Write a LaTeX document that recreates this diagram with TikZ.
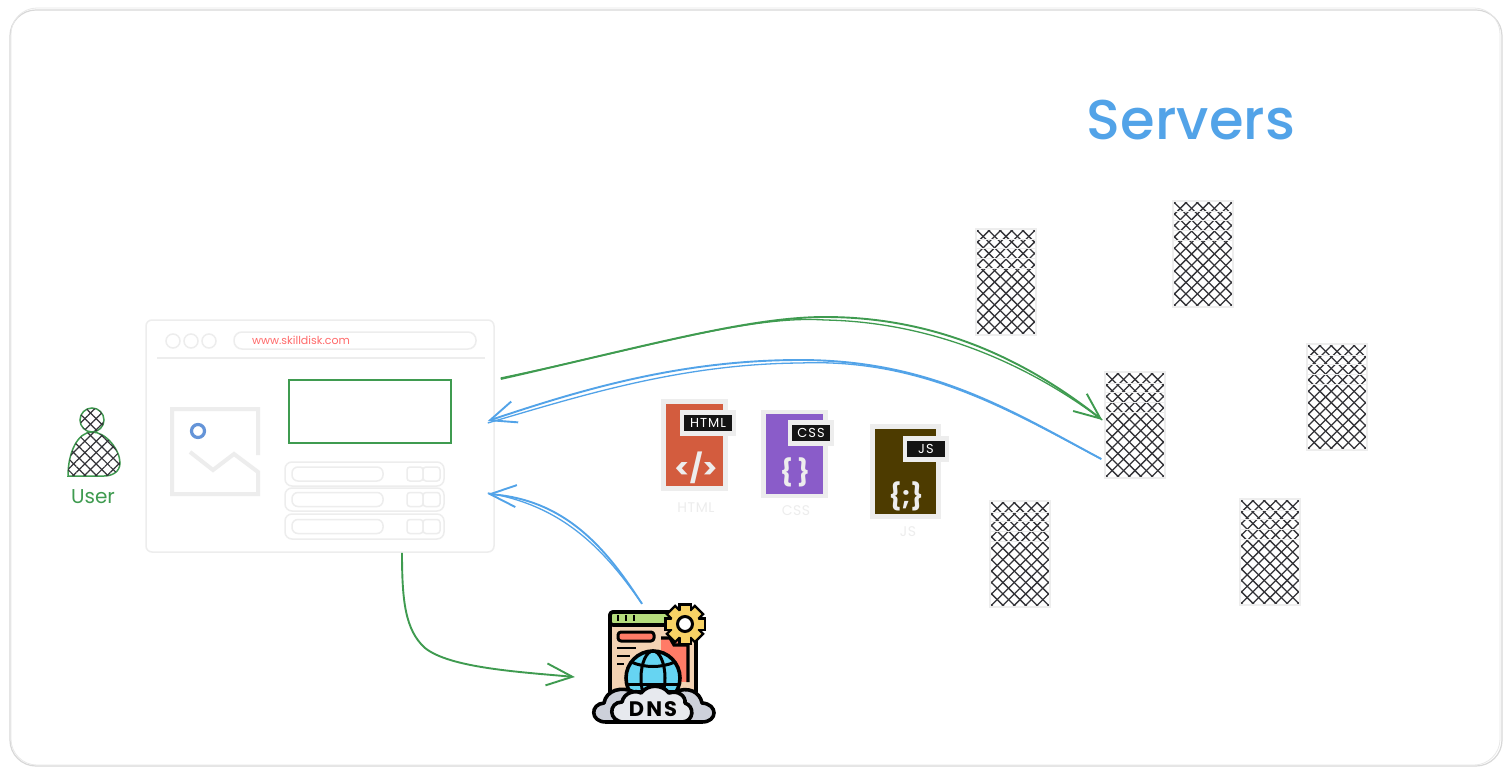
\documentclass[tikz,border=0pt]{standalone}
\usepackage{fontspec}
\setmainfont{Poppins}
\newfontfamily\headfont{Poppins Medium}
\usepackage{tikz}
\usetikzlibrary{positioning,arrows.meta,calc,patterns.meta}

\definecolor{sketchgray}{HTML}{EDEDED}
\definecolor{framegray}{HTML}{D8D8D8}
\definecolor{hatchgray}{HTML}{333338}
\definecolor{usergreen}{HTML}{3F9B50}
\definecolor{linkblue}{HTML}{52A3E8}
\definecolor{urlred}{HTML}{FF6B6B}
\definecolor{dotblue}{HTML}{6494D8}
\definecolor{htmlred}{HTML}{D35C3E}
\definecolor{csspurple}{HTML}{8A5CC9}
\definecolor{jsbrown}{HTML}{4D3B00}
\definecolor{dnspeach}{HTML}{F3D2B3}
\definecolor{dnsgreen}{HTML}{B5DC7C}
\definecolor{dnsred}{HTML}{FF7B67}
\definecolor{dnsyellow}{HTML}{F7D265}
\definecolor{dnsglobe}{HTML}{66D4F2}
\definecolor{cloudback}{HTML}{CDD0DA}
\definecolor{cloudfront}{HTML}{E7E9EE}

\begin{document}
\begin{tikzpicture}[
  x=1pt, y=-1pt,
  font=\fontsize{12}{14}\selectfont,
  hatchline/.style={hatchgray, line width=1.3pt},
  server/.style={draw=sketchgray, line width=1.5pt, fill=white, minimum width=60pt, minimum height=106pt, inner sep=0pt,
    path picture={
      \foreach \k in {-8,...,8}{
        \draw[hatchline] ([xshift=\k*11.4pt]path picture bounding box.center) ++(-70,-70) -- ++(140,140);
        \draw[hatchline] ([xshift=\k*11.4pt]path picture bounding box.center) ++(-70,70) -- ++(140,-140);
      }
      \foreach \s in {11,20,30,40}{
        \draw[sketchgray, line width=1pt] ([yshift=-\s pt]path picture bounding box.north west) -- ([yshift=-\s pt]path picture bounding box.north east);
      }
    }},
  hatched/.style={
    postaction={pattern={Lines[angle=45,distance=8pt,line width=1.2pt]}, pattern color=hatchgray},
    postaction={pattern={Lines[angle=-45,distance=8pt,line width=1.2pt]}, pattern color=hatchgray}},
  sketch/.style={draw=sketchgray, line width=1.5pt, rounded corners=#1},
  sketch/.default=6pt,
  docfile/.style={draw=sketchgray, line width=4.5pt, fill=#1, inner sep=0pt},
  doctag/.style={draw=sketchgray, line width=4.5pt, fill=black!92, text=white, inner sep=0pt, font=\fontsize{13}{15}\selectfont\addfontfeature{LetterSpace=8}},
  docsign/.style={text=sketchgray, font=\fontsize{#1}{#1}\selectfont\bfseries, inner sep=0pt},
  doccaption/.style={text=sketchgray, font=\fontsize{14}{16}\selectfont\addfontfeature{LetterSpace=4}, inner sep=0pt},
  arr/.style={-{Straight Barb[length=26pt,width=22pt]}, line width=1.9pt},
  stroke/.style={line width=1.3pt},
  icon/.style={draw=black, line width=3.6pt, line join=round}
]
\useasboundingbox (0,0) rectangle (1511,775);
\fill[white] (0,0) rectangle (1511,775);
% outer frame
\draw[framegray, line width=1.2pt, rounded corners=26pt] (10,10) rectangle (1502,766);
\draw[framegray!60, line width=.8pt, rounded corners=26pt] (11,8) rectangle (1500,765);

% browser window
\node[sketch, minimum width=348pt, minimum height=232pt, inner sep=0pt] (browser) at (320,436) {};
\foreach \x in {173,191,209}{\draw[sketchgray, line width=1.5pt] (\x,341) circle (7);}
\draw[sketch=8pt] (234,332) rectangle (476,349);
\node[text=urlred, font=\fontsize{11}{13}\selectfont, inner sep=0pt] (url) at (301,340) {www.skilldisk.com};
\draw[sketchgray, line width=1.5pt] (157,358) -- (485,358);
\node[draw=usergreen, line width=1.6pt, minimum width=162pt, minimum height=63pt, inner sep=0pt] (hero) at (370,411.5) {};
% picture placeholder
\draw[sketchgray, line width=4pt] (258,455) -- (258,409) -- (172,409) -- (172,494) -- (258,494) -- (258,472) -- (234,454) -- (213,470) -- (190,452);
\draw[dotblue, line width=3.2pt] (198,431) circle (6.5);
% list rows
\foreach \y/\h in {474/24,499.5/23,526.5/25}{
  \draw[sketch=7pt] (285,\y-\h/2) rectangle (444,\y+\h/2);
  \draw[sketch=6pt] (292,\y-7) rectangle (383,\y+7);
  \draw[sketch=3pt] (407,\y-7) rectangle (423,\y+7);
  \draw[sketch=3pt] (423,\y-7) rectangle (440,\y+7);
}

% user
\draw[usergreen, line width=1.5pt, hatched] (92,420) circle (12);
\draw[usergreen, line width=1.5pt, hatched] (68,476) .. controls (68,452) and (78,432) .. (92,432) .. controls (106,432) and (120,450) .. (120,463) .. controls (120,472) and (112,476) .. (104,476) -- cycle;
\node[text=usergreen, font=\fontsize{20}{22}\selectfont, inner sep=0pt] (user) at (93,497) {User};

% documents
\node[docfile=htmlred, minimum width=62pt, minimum height=87pt] (htmlfile) at (694.5,445) {};
\node[doctag, minimum width=52pt, minimum height=21pt] (htmltag) at (708,423) {HTML};
\node[docsign=28] (htmlsign) at (696,468) {</>};
\node[doccaption] (htmlcap) at (696,508) {HTML};
\node[docfile=csspurple, minimum width=62pt, minimum height=84pt] (cssfile) at (794.5,454) {};
\node[doctag, minimum width=42pt, minimum height=21pt] (csstag) at (811,433) {CSS};
\node[docsign=26] (csssign) at (795,472) {\{\,\}};
\node[doccaption] (csscap) at (796,511) {CSS};
\node[docfile=jsbrown, minimum width=66pt, minimum height=90pt] (jsfile) at (905.5,471.5) {};
\node[doctag, minimum width=42pt, minimum height=21pt] (jstag) at (926,449) {JS};
\node[docsign=26] (jssign) at (906,496) {\{;\}};
\node[doccaption] (jscap) at (908,532) {JS};

% servers
\node[server] (server1) at (1006,282) {};
\node[server] (server2) at (1203,254) {};
\node[server] (server3) at (1135,425) {};
\node[server] (server4) at (1337,397) {};
\node[server] (server5) at (1020,554) {};
\node[server] (server6) at (1270,552) {};
\node[text=linkblue, font=\fontsize{56}{62}\selectfont\headfont, inner sep=0pt] (servers) at (1191,120) {Servers};

% dns icon
\node[minimum width=120pt, minimum height=120pt, inner sep=0pt] (dns) at (654,664) {};
\draw[icon, fill=dnspeach, rounded corners=3pt] (610,612) rectangle (696,695);
\draw[icon, fill=dnsgreen, rounded corners=3pt] (610,612) rectangle (696,625);
\foreach \x in {618,626,634}{\draw[black, line width=2.6pt] (\x,615) -- (\x,621);}
\draw[icon, line width=3pt, fill=dnsred, rounded corners=3pt] (618,632) rectangle (654,641);
\foreach \x/\y in {636/648,630/656,624/664}{\draw[black, line width=2.6pt] (617,\y) -- (\x,\y);}
\fill[dnsred] (661,638) rectangle (688,682);
\draw[black, line width=3.2pt] (661,638) -- (670,638) -- (674,645) -- (688,645) -- (688,682);
% gear
\foreach \a in {0,45,...,315}{\fill[black, rotate around={\a:(685,624)}] (678,603) rectangle (692,624);}
\fill[black] (685,624) circle (16.5);
\foreach \a in {0,45,...,315}{\fill[dnsyellow, rotate around={\a:(685,624)}] (680.5,605.5) rectangle (689.5,624);}
\fill[dnsyellow] (685,624) circle (14);
\draw[black, line width=3pt, fill=white] (685,624) circle (7.5);
% globe
\draw[icon, fill=dnsglobe] (653,678) circle (27);
\draw[black, line width=3pt] (653,678) ellipse (12 and 27);
\draw[black, line width=3pt] (631,662) .. controls (645,668) and (661,668) .. (675,662);
\draw[black, line width=3pt] (627,684) -- (679,684);
% clouds
\draw[icon, fill=cloudback] (606,722) .. controls (590,722) and (590,704) .. (604,703) .. controls (606,690) and (622,686) .. (634,692) -- (675,692) .. controls (688,686) and (700,692) .. (702,703) .. controls (718,704) and (718,722) .. (702,722) -- cycle;
\draw[icon, fill=cloudfront] (624,722) .. controls (608,722) and (608,702) .. (622,702) .. controls (624,692) and (636,690) .. (641,693) .. controls (648,684) and (662,684) .. (669,693) .. controls (678,690) and (686,696) .. (685,703) .. controls (695,706) and (694,722) .. (682,722) -- cycle;
\node[font=\fontsize{21}{23}\selectfont\bfseries\addfontfeature{LetterSpace=10}, inner sep=0pt] (dnslabel) at (653,709) {DNS};

% connectors, each drawn twice like a pen stroke
\draw[usergreen, arr] ([xshift=6pt,yshift=57pt]browser.east) .. controls (650,345) and (750,317) .. (825,317) .. controls (930,317) and (1020,355) .. ([xshift=-2pt,yshift=5pt]server3.west);
\draw[usergreen, stroke] ([xshift=6pt,yshift=58pt]browser.east) .. controls (650,347) and (750,315) .. (825,320) .. controls (930,322) and (1025,362) .. ([xshift=-2pt,yshift=5pt]server3.west);
\draw[linkblue, arr] ([xshift=-3pt,yshift=-34pt]server3.west) .. controls (1010,410) and (930,360) .. (800,360) .. controls (680,360) and (580,390) .. ([xshift=-7pt,yshift=15pt]browser.east);
\draw[linkblue, stroke] ([xshift=-3pt,yshift=-34pt]server3.west) .. controls (1015,414) and (925,358) .. (800,363) .. controls (680,364) and (580,396) .. ([xshift=-7pt,yshift=13pt]browser.east);
\draw[linkblue, arr] ([xshift=-12pt]dns.north) .. controls (610,555) and (570,500) .. ([xshift=-7pt,yshift=-58pt]browser.east);
\draw[linkblue, stroke] ([xshift=-12pt]dns.north) .. controls (606,552) and (565,506) .. ([xshift=-7pt,yshift=-57pt]browser.east);
\draw[usergreen, arr] ([xshift=82pt]browser.south) .. controls (402,600) and (405,630) .. (425,648) .. controls (450,668) and (520,672) .. ([xshift=-19pt,yshift=-13pt]dns.west);
\end{tikzpicture}
\end{document}
